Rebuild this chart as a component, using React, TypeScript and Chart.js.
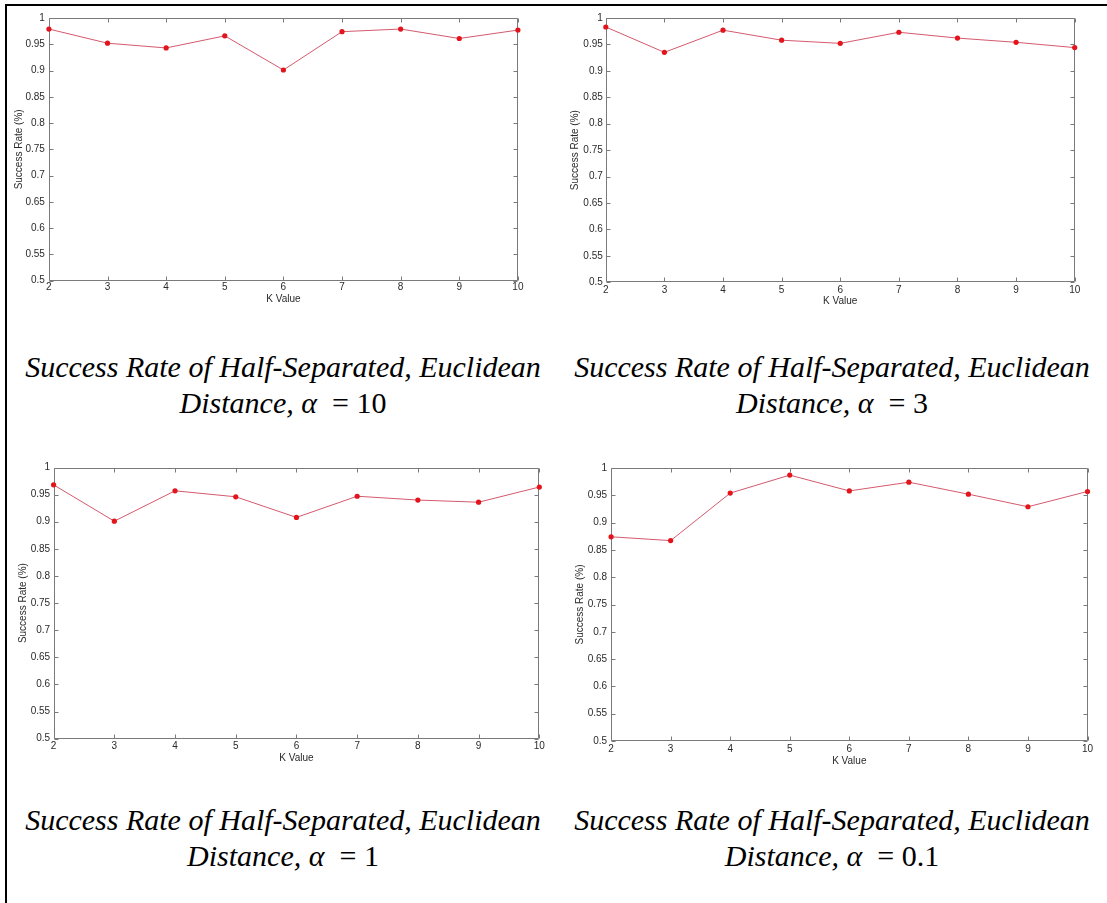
import React, { useEffect, useRef } from "react";
import { Chart, registerables } from "chart.js";

Chart.register(...registerables);

// ---------- data ----------
const kValues = [2, 3, 4, 5, 6, 7, 8, 9, 10];
const rateAlpha10 = [0.979, 0.952, 0.943, 0.966, 0.901, 0.974, 0.979, 0.961, 0.977];
const rateAlpha3 = [0.983, 0.935, 0.977, 0.958, 0.952, 0.973, 0.962, 0.954, 0.944];
const rateAlpha1 = [0.968, 0.901, 0.957, 0.946, 0.908, 0.947, 0.94, 0.936, 0.964];
const rateAlpha01 = [0.874, 0.867, 0.954, 0.987, 0.958, 0.974, 0.952, 0.929, 0.957];
const yTickValues = [0.5, 0.55, 0.6, 0.65, 0.7, 0.75, 0.8, 0.85, 0.9, 0.95, 1];
const xAxisTitle = "K Value";
const yAxisTitle = "Success Rate (%)";
const captionLine1 = "Success Rate of Half-Separated, Euclidean";
const captionPrefix = "Distance,";
const alphaLabels = ["10", "3", "1", "0.1"];
const seriesList = [rateAlpha10, rateAlpha3, rateAlpha1, rateAlpha01];

// ---------- layout ----------
type Box = { x: number; y: number; w: number; h: number };
type Plot = { l: number; t: number; r: number; b: number };
const panelLayout: {
  canvas: Box;
  plot: Plot;
  yTitleX: number;
  xTitleY: number;
  xTickY: number;
  yTickGap: number;
  captionCx: number;
  captionCy: number;
}[] = [
  { canvas: { x: 10, y: 8, w: 530, h: 302 }, plot: { l: 48.9, t: 14.7, r: 517.9, b: 280.7 }, yTitleX: 19.6, xTitleY: 299.3, xTickY: 287.5, yTickGap: 4, captionCx: 283, captionCy: 367 },
  { canvas: { x: 560, y: 8, w: 540, h: 302 }, plot: { l: 605.8, t: 18, r: 1074.7, b: 282.3 }, yTitleX: 575.6, xTitleY: 301.7, xTickY: 290, yTickGap: 3, captionCx: 832, captionCy: 367 },
  { canvas: { x: 10, y: 458, w: 540, h: 312 }, plot: { l: 53.6, t: 464.7, r: 539.3, b: 738.7 }, yTitleX: 23.2, xTitleY: 758.3, xTickY: 746.7, yTickGap: 3.5, captionCx: 283, captionCy: 820 },
  { canvas: { x: 560, y: 458, w: 540, h: 312 }, plot: { l: 611.1, t: 466, r: 1087.5, b: 741 }, yTitleX: 580.2, xTitleY: 761.7, xTickY: 749.3, yTickGap: 4, captionCx: 832, captionCy: 820 },
];

const AXIS_FONT = { family: "'Liberation Sans', Arial, sans-serif", size: 10 };
const TEXT_COLOR = "#2a2a2a";
const BOX_COLOR = "#7a7a7a";
const LINE_COLOR = "rgba(205, 60, 85, 0.85)";
const MARKER_COLOR = "#e2141c";

const matlabBox = {
  id: "matlabBox",
  beforeDatasetsDraw(chart: any) {
    const { ctx, chartArea, scales } = chart;
    const l = Math.round(chartArea.left) + 0.5;
    const r = Math.round(chartArea.right) - 0.5;
    const t = Math.round(chartArea.top) + 0.5;
    const b = Math.round(chartArea.bottom) - 0.5;
    const len = 4;
    ctx.save();
    ctx.strokeStyle = BOX_COLOR;
    ctx.lineWidth = 1;
    ctx.beginPath();
    ctx.rect(l, t, r - l, b - t);
    for (const tk of scales.x.ticks) {
      const px = Math.round(scales.x.getPixelForValue(tk.value)) + 0.5;
      ctx.moveTo(px, b);
      ctx.lineTo(px, b - len);
      ctx.moveTo(px, t);
      ctx.lineTo(px, t + len);
    }
    for (const tk of scales.y.ticks) {
      const py = Math.round(scales.y.getPixelForValue(tk.value)) + 0.5;
      ctx.moveTo(l, py);
      ctx.lineTo(l + len, py);
      ctx.moveTo(r, py);
      ctx.lineTo(r - len, py);
    }
    ctx.stroke();
    ctx.restore();
  },
};

function Panel({ index }: { index: number }) {
  const ref = useRef<HTMLCanvasElement | null>(null);
  const lay = panelLayout[index];
  const values = seriesList[index];
  useEffect(() => {
    if (!ref.current) return;
    const c = lay.canvas;
    const p = lay.plot;
    const lh = AXIS_FONT.size * 1.2;
    const chart = new Chart(ref.current, {
      type: "line",
      data: {
        datasets: [
          {
            data: kValues.map((k, i) => ({ x: k, y: values[i] })),
            borderColor: LINE_COLOR,
            borderWidth: 1,
            pointBackgroundColor: MARKER_COLOR,
            pointBorderColor: MARKER_COLOR,
            pointRadius: 2.6,
            pointBorderWidth: 0,
            tension: 0,
            fill: false,
            clip: false as any,
          },
        ],
      },
      options: {
        animation: false,
        responsive: false,
        maintainAspectRatio: false,
        events: [],
        layout: {
          padding: { left: 0, top: p.t - c.y, right: c.x + c.w - p.r, bottom: 0 },
        },
        plugins: { legend: { display: false }, tooltip: { enabled: false } },
        scales: {
          x: {
            type: "linear",
            min: kValues[0],
            max: kValues[kValues.length - 1],
            afterBuildTicks: (s: any) => {
              s.ticks = kValues.map((v) => ({ value: v }));
            },
            afterFit: (s: any) => {
              s.height = c.y + c.h - p.b;
            },
            grid: { display: false, drawTicks: false },
            border: { display: false },
            ticks: {
              font: AXIS_FONT,
              color: TEXT_COLOR,
              padding: lay.xTickY - p.b - lh / 2,
              maxRotation: 0,
              autoSkip: false,
              callback: (v: any) => String(v),
            },
            title: {
              display: true,
              text: xAxisTitle,
              font: AXIS_FONT,
              color: TEXT_COLOR,
              padding: { top: 0, bottom: c.y + c.h - lay.xTitleY - lh / 2 },
            },
          },
          y: {
            type: "linear",
            min: 0.5,
            max: 1,
            afterBuildTicks: (s: any) => {
              s.ticks = yTickValues.map((v) => ({ value: v }));
            },
            afterFit: (s: any) => {
              s.width = p.l - c.x;
            },
            grid: { display: false, drawTicks: false },
            border: { display: false },
            ticks: {
              font: AXIS_FONT,
              color: TEXT_COLOR,
              padding: lay.yTickGap,
              autoSkip: false,
              callback: (v: any) => String(Number(Number(v).toFixed(2))),
            },
            title: {
              display: true,
              text: yAxisTitle,
              font: AXIS_FONT,
              color: TEXT_COLOR,
              padding: { top: lay.yTitleX - c.x - lh / 2, bottom: 0 },
            },
          },
        },
      } as any,
      plugins: [matlabBox],
    });
    return () => chart.destroy();
  }, [index]);
  const c = lay.canvas;
  return (
    <canvas
      ref={ref}
      width={c.w}
      height={c.h}
      style={{ position: "absolute", left: c.x, top: c.y, width: c.w, height: c.h }}
    />
  );
}

function Caption({ index }: { index: number }) {
  const lay = panelLayout[index];
  const lineH = 36;
  const width = 560;
  return (
    <div
      style={{
        position: "absolute",
        left: lay.captionCx - width / 2,
        top: lay.captionCy - lineH / 2,
        width,
        textAlign: "center",
        fontFamily: "'Liberation Serif', 'Times New Roman', serif",
        fontSize: 30,
        lineHeight: `${lineH}px`,
        color: "#000",
        whiteSpace: "nowrap",
      }}
    >
      <div style={{ fontStyle: "italic" }}>{captionLine1}</div>
      <div>
        <span style={{ fontStyle: "italic" }}>{captionPrefix} α</span>
        <span>{"\u00a0 = " + alphaLabels[index]}</span>
      </div>
    </div>
  );
}

export default function App() {
  return (
    <div
      style={{
        position: "absolute",
        left: 0,
        top: 0,
        width: 1107,
        height: 903,
        background: "#fff",
        overflow: "hidden",
      }}
    >
      <div style={{ position: "absolute", left: 5, top: 4, width: 1102, height: 2, background: "#000" }} />
      <div style={{ position: "absolute", left: 5, top: 4, width: 2, height: 899, background: "#000" }} />
      {panelLayout.map((_, i) => (
        <Panel key={"p" + i} index={i} />
      ))}
      {panelLayout.map((_, i) => (
        <Caption key={"c" + i} index={i} />
      ))}
    </div>
  );
}
